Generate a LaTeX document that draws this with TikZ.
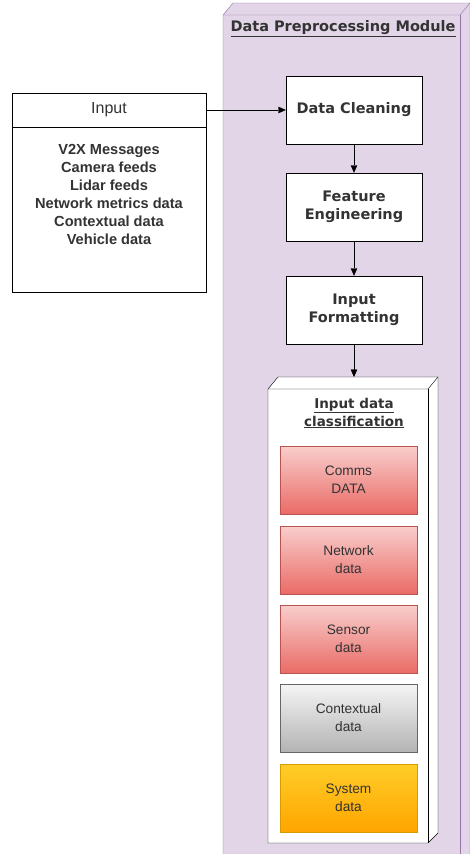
\documentclass[tikz,border=0pt]{standalone}
\usepackage{fontspec}
\setmainfont{Liberation Sans}
\newfontfamily\verdana{DejaVu Sans}
\usetikzlibrary{arrows.meta}

\definecolor{modfill}{HTML}{E1D5E7}
\definecolor{moddraw}{HTML}{9673A6}
\definecolor{redtop}{HTML}{F8CECC}
\definecolor{redbot}{HTML}{EA6B66}
\definecolor{reddraw}{HTML}{B85450}
\definecolor{graytop}{HTML}{F5F5F5}
\definecolor{graybot}{HTML}{B3B3B3}
\definecolor{graydraw}{HTML}{666666}
\definecolor{orangetop}{HTML}{FFCD28}
\definecolor{orangebot}{HTML}{FFA500}
\definecolor{orangedraw}{HTML}{D79B00}
\definecolor{txtgray}{HTML}{333333}

\tikzset{
  procbox/.style={draw, fill=white, minimum width=136pt, minimum height=68pt,
    align=center, text=txtgray, font=\verdana\bfseries\fontsize{14.5}{18}\selectfont},
  classbox/.style={draw=#1draw, top color=#1top, bottom color=#1bot,
    minimum width=137pt, minimum height=68pt, align=center,
    text=txtgray, font=\fontsize{13.7}{18}\selectfont},
  flow/.style={-{Triangle[length=7.5pt,width=6.5pt]}},
}

\begin{document}
\begin{tikzpicture}[x=1pt,y=-1pt]
  \useasboundingbox (0,0) rectangle (470,854);

  % module container
  \draw[moddraw, fill=modfill] (223,854) -- (223,15) -- (233,3) -- (470,3) -- (470,854);
  \draw[moddraw] (223,15) -- (460,15) -- (470,3);
  \draw[moddraw] (460,15) -- (460,854);
  \node[text=txtgray, font=\verdana\bfseries\fontsize{14.5}{16}\selectfont] (modtitle) at (343,29) {\underline{Data Preprocessing Module}};

  % input
  \node[draw, fill=white, minimum width=194pt, minimum height=34pt, text=txtgray, font=\fontsize{16}{18}\selectfont] (inhead) at (109,110) {Input};
  \node[draw, fill=white, minimum width=194pt, minimum height=165pt, anchor=north] (inbody) at (inhead.south) {};
  \node[anchor=north, align=center, text=txtgray, font=\bfseries\fontsize{14.6}{18}\selectfont] (inlist) at (109,141)
    {V2X Messages\\Camera feeds\\Lidar feeds\\Network metrics data\\Contextual data\\Vehicle data};

  % processing steps
  \node[procbox] (clean) at (354,110) {Data Cleaning};
  \node[procbox] (feat) at (354,207) {Feature\\Engineering};
  \node[procbox] (fmt) at (354,310) {Input\\Formatting};

  \draw[flow] (inhead.east) -- (clean.west);
  \draw[flow] (clean) -- (feat);
  \draw[flow] (feat) -- (fmt);

  % classification box
  \draw[fill=white] (268,843) -- (268,389) -- (278,377) -- (438,377) -- (438,833) -- (428,843) -- cycle;
  \draw (268,389) -- (428,389) -- (438,377);
  \draw (428,389) -- (428,843);
  \coordinate (classtop) at (354,377);
  \draw[flow] (fmt) -- (classtop);
  \node[align=center, text=txtgray, font=\verdana\bfseries\fontsize{13.5}{18}\selectfont] (classtitle) at (354,413)
    {\underline{Input data}\\\underline{classification}};

  \foreach \y/\name/\txt/\col in {480/comms/Comms\\DATA/red, 560/network/Network\\data/red,
      639/sensor/Sensor\\data/red, 718/context/Contextual\\data/gray, 798/system/System\\data/orange} {
    \node[classbox=\col] (\name) at (348.5,\y) {\txt};
  }
\end{tikzpicture}
\end{document}
